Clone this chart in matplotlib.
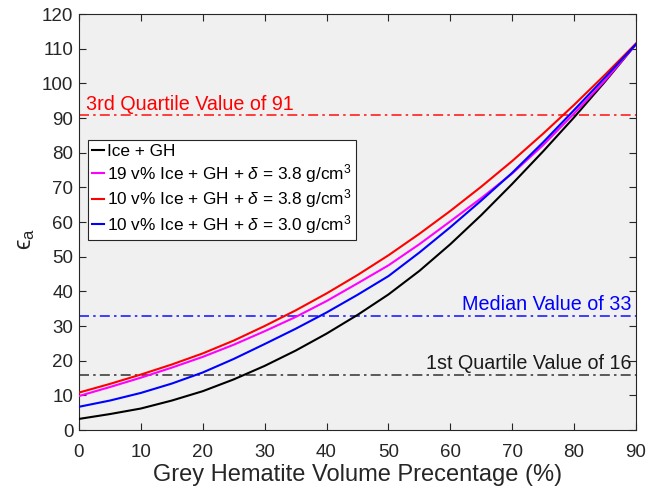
import matplotlib
matplotlib.use("Agg")
import matplotlib.pyplot as plt

plt.rcParams["font.family"] = ["Liberation Sans", "DejaVu Sans"]
plt.rcParams["mathtext.fontset"] = "custom"
plt.rcParams["mathtext.rm"] = "Liberation Sans"
plt.rcParams["mathtext.it"] = "Liberation Sans:italic"
plt.rcParams["mathtext.fallback"] = "cm"

# Grey hematite volume fraction (%)
gh_volume = [0, 5, 10, 15, 20, 25, 30, 35, 40, 45, 50, 55, 60, 65, 70, 75, 80, 85, 90]

# Apparent permittivity for each mixture
eps_ice_gh = [3.2, 4.6, 6.2, 8.5, 11.2, 14.6, 18.5, 22.9, 27.8, 33.2, 39.1, 45.9,
              53.6, 62.0, 71.0, 80.4, 90.2, 100.5, 111.3]
eps_19_38 = [9.8, 12.4, 15.1, 18.0, 21.1, 24.6, 28.5, 32.6, 37.2, 42.3, 47.5, 53.6,
             60.2, 66.9, 74.0, 82.2, 91.3, 100.8, 111.3]
eps_10_38 = [10.8, 13.3, 16.0, 18.9, 22.1, 25.8, 30.0, 34.5, 39.4, 44.7, 50.4, 56.6,
             63.2, 70.2, 77.6, 85.5, 93.8, 102.5, 111.5]
eps_10_30 = [6.7, 8.5, 10.7, 13.4, 16.6, 20.5, 24.8, 29.2, 33.9, 39.0, 44.4, 51.2,
             58.5, 66.2, 74.2, 83.0, 92.3, 101.7, 111.3]

series_labels = [
    "Ice + GH",
    r"19 v% Ice + GH + $\delta$ = 3.8 g/cm$^3$",
    r"10 v% Ice + GH + $\delta$ = 3.8 g/cm$^3$",
    r"10 v% Ice + GH + $\delta$ = 3.0 g/cm$^3$",
]
series_colors = ["black", "#ff00ff", "#ff0000", "#0000ff"]

# Reference statistics
quartile_values = [16, 33, 91]
quartile_texts = ["1st Quartile Value of 16", "Median Value of 33", "3rd Quartile Value of 91"]
quartile_colors = ["#404040", "#2020ff", "#ff2020"]
quartile_text_colors = ["#1a1a1a", "#0000ff", "#ff0000"]

fig = plt.figure(figsize=(6.47, 4.92), dpi=100)
ax = fig.add_axes([0.1221, 0.126, 0.8609, 0.8455])
ax.set_facecolor("#f0f0f0")

for val, col in zip(quartile_values, quartile_colors):
    ax.axhline(val, color=col, linestyle=(0, (6, 2.5, 1.5, 2.5)), linewidth=1.2, zorder=1)

for ys, col, lab in zip([eps_ice_gh, eps_19_38, eps_10_38, eps_10_30], series_colors, series_labels):
    ax.plot(gh_volume, ys, color=col, linewidth=1.5, label=lab, zorder=3)

# Statistic annotations
ax.text(89.3, 17.6, quartile_texts[0], color=quartile_text_colors[0], fontsize=14.2,
        ha="right", va="baseline")
ax.text(89.3, 34.7, quartile_texts[1], color=quartile_text_colors[1], fontsize=14.2,
        ha="right", va="baseline")
ax.text(1.1, 92.4, quartile_texts[2], color=quartile_text_colors[2], fontsize=14.2,
        ha="left", va="baseline")

ax.set_xlim(0, 90)
ax.set_ylim(0, 120)
ax.set_xticks(range(0, 91, 10))
ax.set_yticks(range(0, 121, 10))
ax.tick_params(direction="in", length=5, width=0.8, top=True, right=True,
               labelsize=13.5, colors="#262626")
ax.tick_params(axis="x", pad=10)
ax.tick_params(axis="y", pad=4)
for sp in ax.spines.values():
    sp.set_color("#262626")
    sp.set_linewidth(0.8)

ax.set_xlabel("Grey Hematite Volume Precentage (%)", fontsize=17, color="#262626", labelpad=2)
ax.set_ylabel("\u03f5$_\\mathrm{a}$", fontsize=17, color="#262626")
ax.yaxis.set_label_coords(-0.075, 0.46)

leg = ax.legend(loc="upper left", bbox_to_anchor=(0.016, 0.697), fontsize=12.4,
                handlelength=0.7, handletextpad=0.15, labelspacing=0.15,
                borderpad=0.25, borderaxespad=0.0, fancybox=False, framealpha=1,
                edgecolor="#262626")
leg.get_frame().set_linewidth(0.8)

fig.savefig("out.png", dpi=100, facecolor="white")
